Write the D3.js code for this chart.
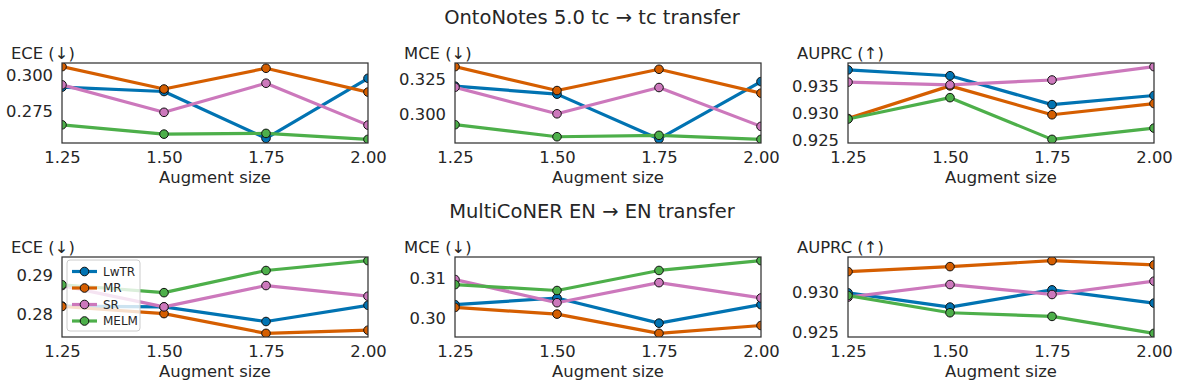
<!DOCTYPE html>
<html>
<head>
<meta charset="utf-8">
<script src="https://cdn.jsdelivr.net/npm/d3@7"></script>
<style>
  body { margin: 0; background: #fff; }
  text { font-family: "DejaVu Sans", sans-serif; fill: #262626; }
</style>
</head>
<body>
<svg id="chart" width="1183" height="387"></svg>
<script>
// values
const augmentSizes = [1.25, 1.50, 1.75, 2.00];
const methods = ["LwTR", "MR", "SR", "MELM"];
const colors = ["#0173b2", "#d55e00", "#cc78bc", "#4daf4a"];

const groupTitles = ["OntoNotes 5.0 tc \u2192 tc transfer", "MultiCoNER EN \u2192 EN transfer"];
const metricLabels = ["ECE (\u2193)", "MCE (\u2193)", "AUPRC (\u2191)"];

// rows follow `methods`
const ontoECE = [
  [0.2916, 0.2886, 0.2564, 0.2977],
  [0.3057, 0.2903, 0.3046, 0.2882],
  [0.2932, 0.2743, 0.2943, 0.2655],
  [0.2657, 0.2593, 0.2598, 0.2557]
];
const ontoMCE = [
  [0.3200, 0.3142, 0.2818, 0.3233],
  [0.3341, 0.3168, 0.3322, 0.3149],
  [0.3192, 0.3000, 0.3190, 0.2909],
  [0.2921, 0.2834, 0.2844, 0.2815]
];
const ontoAUPRC = [
  [0.9381, 0.9370, 0.9316, 0.9333],
  [0.9290, 0.9351, 0.9297, 0.9318],
  [0.9358, 0.9353, 0.9362, 0.9387],
  [0.9289, 0.9329, 0.9251, 0.9272]
];
const multiECE = [
  [0.2821, 0.2819, 0.2782, 0.2823],
  [0.2820, 0.2802, 0.2752, 0.2760],
  [0.2873, 0.2819, 0.2873, 0.2846],
  [0.2875, 0.2855, 0.2911, 0.2936]
];
const multiMCE = [
  [0.3034, 0.3051, 0.2987, 0.3034],
  [0.3027, 0.3010, 0.2961, 0.2981],
  [0.3098, 0.3039, 0.3090, 0.3051],
  [0.3085, 0.3070, 0.3121, 0.3146]
];
const multiAUPRC = [
  [0.92992, 0.92813, 0.93029, 0.92863],
  [0.93258, 0.93321, 0.93396, 0.93342],
  [0.92938, 0.93096, 0.92971, 0.93138],
  [0.92958, 0.92742, 0.92696, 0.92483]
];

const ontoTicks = [[0.275, 0.300], [0.300, 0.325], [0.925, 0.930, 0.935]];
const multiTicks = [[0.28, 0.29], [0.30, 0.31], [0.925, 0.930]];
const ontoFormats = [".3f", ".3f", ".3f"];
const multiFormats = [".2f", ".2f", ".3f"];

// layout
const colX = [62, 455, 848];
const rowY = [63, 257];
const pw = 306, ph = 80;
const titleY = [24, 218];

const svg = d3.select("#chart");

const panels = [
  {row: 0, col: 0, data: ontoECE, ticks: ontoTicks[0], fmt: ontoFormats[0]},
  {row: 0, col: 1, data: ontoMCE, ticks: ontoTicks[1], fmt: ontoFormats[1]},
  {row: 0, col: 2, data: ontoAUPRC, ticks: ontoTicks[2], fmt: ontoFormats[2]},
  {row: 1, col: 0, data: multiECE, ticks: multiTicks[0], fmt: multiFormats[0], legend: true},
  {row: 1, col: 1, data: multiMCE, ticks: multiTicks[1], fmt: multiFormats[1]},
  {row: 1, col: 2, data: multiAUPRC, ticks: multiTicks[2], fmt: multiFormats[2]}
];

groupTitles.forEach((t, i) => {
  svg.append("text")
    .attr("x", 592).attr("y", titleY[i])
    .attr("text-anchor", "middle")
    .style("font-size", "19.5px")
    .text(t);
});

panels.forEach((p, idx) => {
  const g = svg.append("g")
    .attr("transform", `translate(${colX[p.col]},${rowY[p.row]})`);

  const x = d3.scaleLinear().domain([1.25, 2.0]).range([0, pw]);
  const [lo, hi] = d3.extent(p.data.flat());
  const pad = (hi - lo) * 0.05;
  const y = d3.scaleLinear().domain([lo - pad, hi + pad]).range([ph, 0]);

  g.append("clipPath").attr("id", "clip" + idx)
    .append("rect").attr("width", pw).attr("height", ph);

  // axes
  const xa = g.append("g").attr("transform", `translate(0,${ph})`)
    .call(d3.axisBottom(x).tickValues(augmentSizes).tickFormat(d3.format(".2f")).tickSize(0).tickPadding(8));
  const ya = g.append("g")
    .call(d3.axisLeft(y).tickValues(p.ticks).tickFormat(d3.format(p.fmt)).tickSize(0).tickPadding(9));
  [xa, ya].forEach(a => {
    a.select(".domain").remove();
    a.selectAll("text").style("font-size", "16.4px").attr("fill", "#262626")
      .style("font-family", "DejaVu Sans, sans-serif");
  });

  g.append("text")
    .attr("x", pw / 2).attr("y", ph + 40)
    .attr("text-anchor", "middle")
    .style("font-size", "16.4px")
    .text("Augment size");

  g.append("text")
    .attr("x", -51).attr("y", -4)
    .style("font-size", "16.4px")
    .text(metricLabels[p.col]);

  const plot = g.append("g").attr("clip-path", `url(#clip${idx})`);
  const line = d3.line().x((d, i) => x(augmentSizes[i])).y(d => y(d));

  p.data.forEach((vals, m) => {
    plot.append("path")
      .datum(vals)
      .attr("d", line)
      .attr("fill", "none")
      .attr("stroke", colors[m])
      .attr("stroke-width", 3.2)
      .attr("stroke-linejoin", "round");
    plot.selectAll(null)
      .data(vals)
      .enter()
      .append("circle")
      .attr("cx", (d, i) => x(augmentSizes[i]))
      .attr("cy", d => y(d))
      .attr("r", 4.3)
      .attr("fill", colors[m])
      .attr("stroke", "#111")
      .attr("stroke-width", 1);
  });

  g.append("rect")
    .attr("width", pw).attr("height", ph)
    .attr("fill", "none")
    .attr("stroke", "#333")
    .attr("stroke-width", 1.25);

  if (p.legend) {
    const lg = g.append("g").attr("transform", "translate(5,3)");
    lg.append("rect")
      .attr("width", 73).attr("height", 71)
      .attr("rx", 3)
      .attr("fill", "rgba(255,255,255,0.8)")
      .attr("stroke", "#cccccc")
      .attr("stroke-width", 1);
    methods.forEach((name, m) => {
      const cy = 11.5 + m * 16.5;
      lg.append("line")
        .attr("x1", 5).attr("x2", 30)
        .attr("y1", cy).attr("y2", cy)
        .attr("stroke", colors[m]).attr("stroke-width", 3.2);
      lg.append("circle")
        .attr("cx", 17.5).attr("cy", cy).attr("r", 4.3)
        .attr("fill", colors[m]).attr("stroke", "#111").attr("stroke-width", 1);
      lg.append("text")
        .attr("x", 36).attr("y", cy + 4.3)
        .style("font-size", "12px")
        .text(name);
    });
  }
});
</script>
</body>
</html>
